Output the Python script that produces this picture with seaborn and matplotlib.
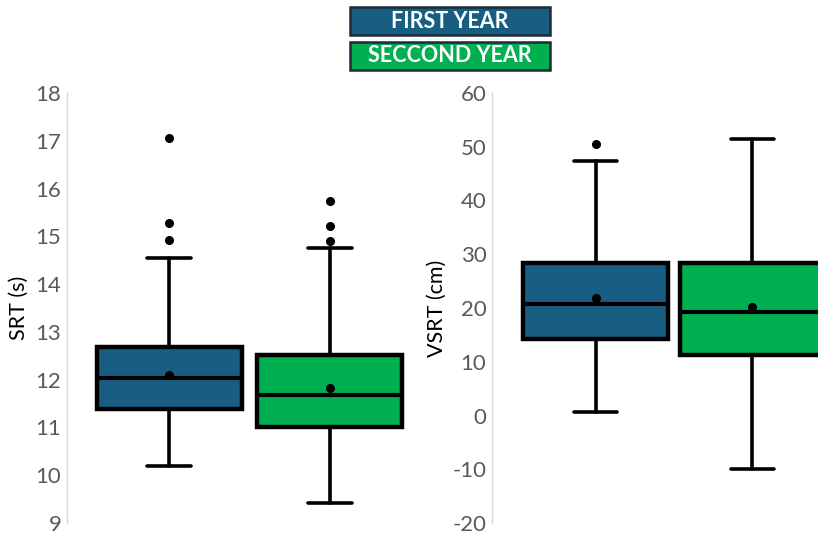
import numpy as np
import matplotlib.pyplot as plt
import seaborn as sns
from matplotlib.patches import Rectangle

# summary stats (first year, second year)
groups = ["FIRST YEAR", "SECCOND YEAR"]
colors = ["#185e82", "#00b050"]

srt_q1 = [11.39, 11.01]
srt_med = [12.03, 11.68]
srt_q3 = [12.68, 12.51]
srt_lo = [10.19, 9.41]
srt_hi = [14.55, 14.75]
srt_mean = [12.10, 11.82]
srt_out = [[17.05, 15.28, 14.93], [15.74, 15.21, 14.90]]

vsrt_q1 = [14.2, 11.3]
vsrt_med = [20.7, 19.2]
vsrt_q3 = [28.3, 28.3]
vsrt_lo = [0.6, -10.0]
vsrt_hi = [47.3, 51.4]
vsrt_mean = [21.8, 20.1]
vsrt_out = [[50.6], []]

sns.set_style("white")
plt.rcParams['font.family'] = ['Lato', 'DejaVu Sans']
plt.rcParams['axes.unicode_minus'] = False

fig = plt.figure(figsize=(8.18, 5.34), dpi=100)
W, H = 818, 534


def make_stats(q1, med, q3, lo, hi, mean, out):
    return [dict(q1=q1[i], med=med[i], q3=q3[i], whislo=lo[i], whishi=hi[i],
                 mean=mean[i], fliers=out[i], label=groups[i]) for i in range(2)]


def draw(ax, stats, ylim, ticks, ylabel, width):
    bp = ax.bxp(stats, positions=[0, 1], widths=width, capwidths=0.275,
                showmeans=True, patch_artist=True,
                boxprops=dict(linewidth=3.2, edgecolor="black"),
                medianprops=dict(color="black", linewidth=3),
                whiskerprops=dict(color="black", linewidth=2.6),
                capprops=dict(color="black", linewidth=2.6),
                meanprops=dict(marker="o", markerfacecolor="black", markeredgecolor="black", markersize=5.5),
                flierprops=dict(marker="o", markerfacecolor="black", markeredgecolor="black", markersize=5.5))
    for patch, c in zip(bp["boxes"], colors):
        patch.set_facecolor(c)
    ax.set_ylim(*ylim)
    ax.set_yticks(ticks)
    ax.set_xticks([])
    ax.tick_params(axis="y", length=0, labelsize=16, labelcolor="#595959", pad=4)
    ax.set_ylabel(ylabel, fontsize=15.5, color="black")
    sns.despine(ax=ax, bottom=True)
    ax.spines["left"].set_color("#d9d9d9")
    ax.spines["left"].set_linewidth(1)


bottom = (H - 523) / H
height = (523 - 93) / H

ax1 = fig.add_axes([67 / W, bottom, 365 / W, height])
draw(ax1, make_stats(srt_q1, srt_med, srt_q3, srt_lo, srt_hi, srt_mean, srt_out),
     (9, 18), range(9, 19), "SRT (s)", 0.91)
ax1.set_xlim(-0.64, 1.64)

ax2 = fig.add_axes([492 / W, bottom, 364 / W, height])
draw(ax2, make_stats(vsrt_q1, vsrt_med, vsrt_q3, vsrt_lo, vsrt_hi, vsrt_mean, vsrt_out),
     (-20, 60), range(-20, 61, 10), "VSRT (cm)", 0.92)
ax2.set_xlim(-0.66, 1.66)

ax1.yaxis.set_label_coords(-38 / 365, 0.5)
ax2.yaxis.set_label_coords(-45 / 364, 0.5)

# legend boxes at top
for i, (g, c) in enumerate(zip(groups, colors)):
    y0 = 7 + i * 35
    fig.add_artist(Rectangle((350 / W, 1 - (y0 + 28) / H), 200 / W, 28 / H,
                             transform=fig.transFigure, facecolor=c,
                             edgecolor="#1e2b36", linewidth=1.8))
    fig.text(450 / W, 1 - (y0 + 14) / H, g, ha="center", va="center",
             color="white", fontsize=15.5, fontweight="bold")

fig.savefig("out.png", dpi=100)
